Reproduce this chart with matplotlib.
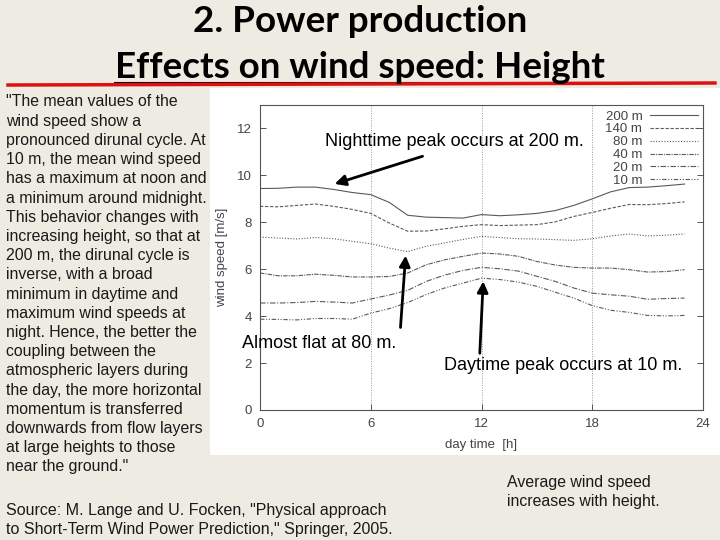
import matplotlib
matplotlib.use("Agg")
from matplotlib import pyplot as plt
from matplotlib.patches import Rectangle
from matplotlib.lines import Line2D

# 数据：每小时平均风速 (m/s)
hours = list(range(24))
ws_200 = [9.44, 9.45, 9.50, 9.50, 9.40, 9.27, 9.18, 8.85, 8.30, 8.22, 8.20, 8.18,
          8.33, 8.28, 8.32, 8.38, 8.50, 8.72, 9.00, 9.30, 9.48, 9.50, 9.56, 9.63]
ws_140 = [8.68, 8.66, 8.72, 8.78, 8.68, 8.55, 8.38, 7.97, 7.62, 7.63, 7.72, 7.83,
          7.90, 7.86, 7.88, 7.90, 8.02, 8.25, 8.42, 8.60, 8.76, 8.75, 8.80, 8.87]
ws_80 = [7.37, 7.33, 7.29, 7.35, 7.30, 7.19, 7.09, 6.90, 6.75, 6.98, 7.12, 7.27,
         7.40, 7.35, 7.30, 7.29, 7.26, 7.23, 7.30, 7.42, 7.50, 7.42, 7.45, 7.50]
ws_40 = [5.84, 5.72, 5.72, 5.79, 5.74, 5.67, 5.67, 5.69, 5.84, 6.19, 6.40, 6.55,
         6.69, 6.65, 6.55, 6.33, 6.18, 6.08, 6.05, 6.05, 5.98, 5.88, 5.90, 5.98]
ws_20 = [4.56, 4.56, 4.58, 4.63, 4.60, 4.56, 4.73, 4.90, 5.10, 5.48, 5.75, 5.95,
         6.08, 6.02, 5.92, 5.70, 5.48, 5.20, 4.98, 4.91, 4.85, 4.72, 4.75, 4.77]
ws_10 = [3.87, 3.86, 3.84, 3.90, 3.90, 3.87, 4.13, 4.32, 4.58, 4.92, 5.20, 5.41,
         5.62, 5.56, 5.45, 5.27, 5.02, 4.77, 4.45, 4.25, 4.16, 4.03, 4.01, 4.03]
series = [ws_200, ws_140, ws_80, ws_40, ws_20, ws_10]
labels = ["200 m", "140 m", "80 m", "40 m", "20 m", "10 m"]
styles = ["-", (0, (3, 1.5)), (0, (1, 1.5)), (0, (4, 1, 1, 1)),
          (0, (5, 1.5, 1, 1.5)), (0, (4, 1.5, 1, 1.5, 1, 1.5))]

title_lines = ["2. Power production", "Effects on wind speed: Height"]
quote = [
    "\"The mean values of the",
    "wind speed show a",
    "pronounced dirunal cycle. At",
    "10 m, the mean wind speed",
    "has a maximum at noon and",
    "a minimum around midnight.",
    "This behavior changes with",
    "increasing height, so that at",
    "200 m, the dirunal cycle is",
    "inverse, with a broad",
    "minimum in daytime and",
    "maximum wind speeds at",
    "night. Hence, the better the",
    "coupling between the",
    "atmospheric layers during",
    "the day, the more horizontal",
    "momentum is transferred",
    "downwards from flow layers",
    "at large heights to those",
    "near the ground.\"",
]
source = ["Source: M. Lange and U. Focken, \"Physical approach",
          "to Short-Term Wind Power Prediction,\" Springer, 2005."]
note = ["Average wind speed", "increases with height."]

W, H = 720, 540
bg = "#eeebe2"
fig = plt.figure(figsize=(7.2, 5.4), dpi=100, facecolor=bg)
plt.rcParams["font.family"] = ["Liberation Sans", "DejaVu Sans"]

def fx(px):
    return px / W

def fy(py):
    return 1 - py / H

# 白色图片区域
fig.patches.append(Rectangle((fx(210), fy(455)), fx(510), (455 - 88) / H,
                             transform=fig.transFigure, facecolor="white",
                             edgecolor="none", zorder=-1))

# 标题
fig.text(0.5, fy(21), title_lines[0], ha="center", va="center",
         family="Lato", weight="bold", fontsize=26.5, color="black")
fig.text(0.5, fy(68), title_lines[1], ha="center", va="center",
         family="Lato", weight="bold", fontsize=26.5, color="black")
fig.add_artist(Line2D([fx(115), fx(605)], [fy(83), fy(83)], transform=fig.transFigure,
                      color="black", lw=1.5))
fig.add_artist(Line2D([fx(8), fx(715)], [fy(85), fy(83)], transform=fig.transFigure,
                      color="#dd1111", lw=2.5))

# 左侧引文
for i, line in enumerate(quote):
    fig.text(fx(6), fy(102 + i * 19.2), line, ha="left", va="center",
             fontsize=11.4, color="#1a1a1a")
for i, line in enumerate(source):
    fig.text(fx(6), fy(510 + i * 19.2), line, ha="left", va="center",
             fontsize=11.5, color="#1a1a1a")
for i, line in enumerate(note):
    fig.text(fx(507), fy(482 + i * 19.2), line, ha="left", va="center",
             fontsize=11.4, color="#1a1a1a")

# 图表
ax = fig.add_axes([fx(260), fy(410), fx(443), (410 - 105) / H])
ax.set_facecolor("white")
for s, lab, ls in zip(series, labels, styles):
    ax.plot(hours, s, color="#5a5a5a", lw=0.8, ls=ls, label=lab)
ax.set_xlim(0, 24)
ax.set_ylim(0, 13)
ax.set_xticks([0, 6, 12, 18, 24])
ax.set_yticks([0, 2, 4, 6, 8, 10, 12])
for x in [6, 12, 18]:
    ax.axvline(x, color="#999999", lw=0.7, ls=(0, (1, 1.5)), zorder=0)
ax.tick_params(direction="in", right=True, length=4, width=0.7, labelsize=9.5,
               colors="#555555", labelcolor="#444444", pad=6)
for sp in ax.spines.values():
    sp.set_color("#555555")
    sp.set_linewidth(0.8)
ax.set_xlabel("day time  [h]", fontsize=9.5, color="#444444", labelpad=6)
ax.set_ylabel("wind speed [m/s]", fontsize=9.5, color="#444444", labelpad=6)
ax.legend(loc="upper right", frameon=False, markerfirst=False, fontsize=9.5,
          handlelength=3.6, labelspacing=0.05, borderaxespad=0.0,
          handletextpad=0.6, labelcolor="#444444")

# 注释箭头
arrow = dict(arrowstyle="-|>", color="black", lw=2, mutation_scale=16)
ax.annotate("", xy=(3.9, 9.6), xytext=(8.95, 10.85), arrowprops=arrow)
ax.annotate("", xy=(7.9, 6.7), xytext=(7.6, 3.4), arrowprops=arrow)
ax.annotate("", xy=(12.1, 5.6), xytext=(11.9, 2.3), arrowprops=arrow)
fig.text(fx(325), fy(142), "Nighttime peak occurs at 200 m.", ha="left", va="center",
         fontsize=13, color="black")
fig.text(fx(242), fy(344), "Almost flat at 80 m.", ha="left", va="center",
         fontsize=13, color="black")
fig.text(fx(444), fy(365), "Daytime peak occurs at 10 m.", ha="left", va="center",
         fontsize=13, color="black")

fig.savefig("out.png", dpi=100, facecolor=bg)
